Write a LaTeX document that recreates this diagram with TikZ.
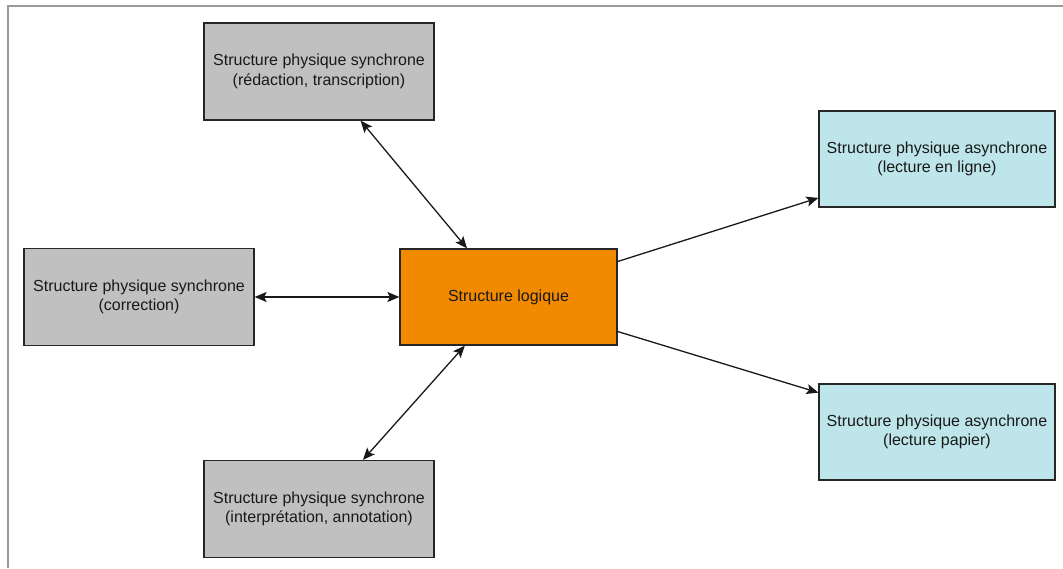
\documentclass[tikz,border=0pt]{standalone}
\usepackage{fontspec}
\setmainfont{Liberation Sans}
\usetikzlibrary{calc,arrows.meta}
\definecolor{boxgray}{HTML}{C0C0C0}
\definecolor{boxorange}{HTML}{F18A00}
\definecolor{boxcyan}{HTML}{BDE5EA}
\definecolor{framegray}{HTML}{9A9A9A}
\tikzset{
  box/.style={draw=black!85, line width=1.2pt, align=center, inner sep=0pt,
    font=\fontsize{16}{19.5}\selectfont, text=black!90},
  syncbox/.style={box, fill=boxgray, minimum width=230pt, minimum height=97pt},
  asyncbox/.style={box, fill=boxcyan, minimum width=236pt, minimum height=96pt},
  logbox/.style={box, fill=boxorange, minimum width=217pt, minimum height=96pt},
  tip/.style={},
  link/.style={line width=1.3pt, draw=black!90, -{Stealth[length=12pt,width=10pt,inset=2.5pt]}},
  dlink/.style={link, {Stealth[length=12pt,width=10pt,inset=2.5pt]}-{Stealth[length=12pt,width=10pt,inset=2.5pt]}},
}
\begin{document}
\begin{tikzpicture}[x=1pt,y=-1pt]
  \useasboundingbox (0,0) rectangle (1063,568);
  % frame edges
  \coordinate (ftl) at (8,6);
  \coordinate (ftr) at (1063,6);
  \coordinate (fbl) at (8,568);
  \draw[framegray, line width=1.4pt] (ftr) -- (ftl) -- (fbl);

  \node[syncbox] (redac) at (319,71.5) {Structure physique synchrone\\(rédaction, transcription)};
  \node[syncbox] (corr) at (139,297) {Structure physique synchrone\\(correction)};
  \node[syncbox] (interp) at (319,509) {Structure physique synchrone\\(interprétation, annotation)};
  \node[logbox] (logic) at (508.5,297) {Structure logique};
  \node[asyncbox] (online) at (937,159) {Structure physique asynchrone\\(lecture en ligne)};
  \node[asyncbox] (paper) at (937,432) {Structure physique asynchrone\\(lecture papier)};

  \draw[dlink] ($(redac.south west)!0.68!(redac.south east)$) -- ($(logic.north west)!0.31!(logic.north east)$);
  \draw[dlink] (corr.east) -- (logic.west);
  \draw[dlink] ($(interp.north west)!0.69!(interp.north east)$) -- ($(logic.south west)!0.30!(logic.south east)$);
  \draw[link] ($(logic.north east)!0.135!(logic.south east)$) -- ($(online.north west)!0.9!(online.south west)$);
  \draw[link] ($(logic.north east)!0.855!(logic.south east)$) -- ($(paper.north west)!0.095!(paper.south west)$);
\end{tikzpicture}
\end{document}
